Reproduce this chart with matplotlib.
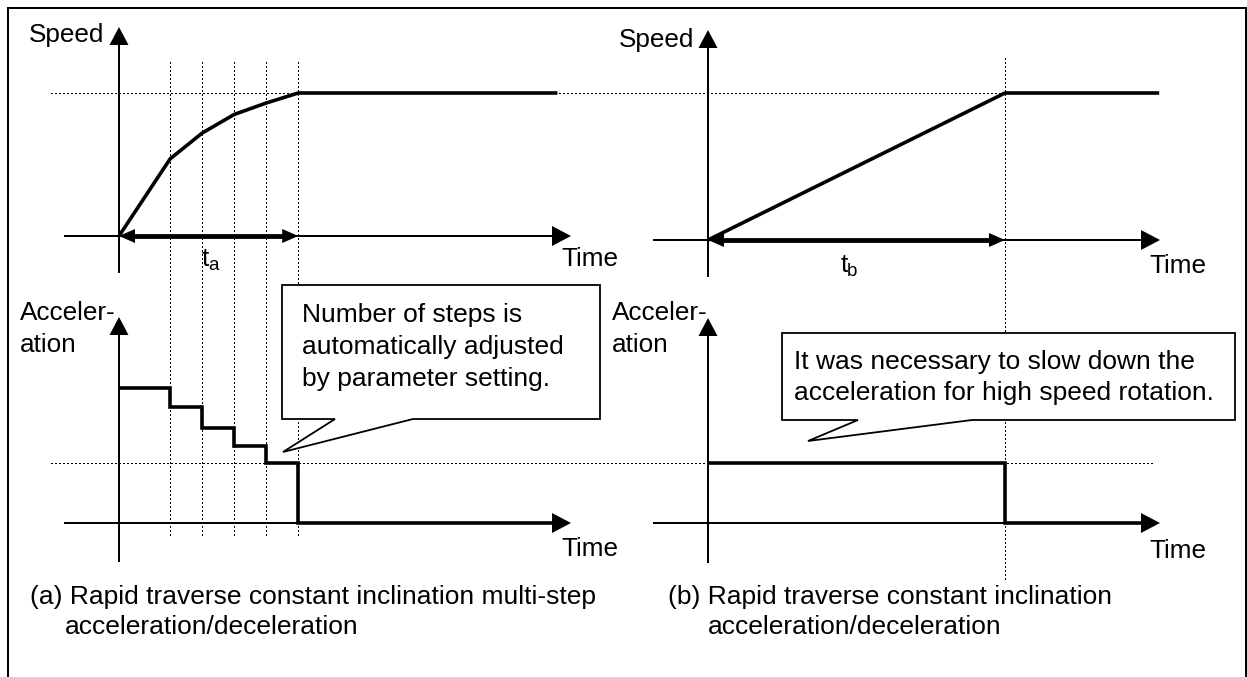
import math
import matplotlib
matplotlib.use("Agg")
import matplotlib.pyplot as plt
from matplotlib.patches import Polygon

plt.rcParams['font.family'] = ['Liberation Sans', 'DejaVu Sans']

# ---------------- data ----------------
# (a) multi-step: step boundaries (time units), speed at each boundary, accel level per step
step_t = [0, 1.6, 2.6, 3.6, 4.6, 5.6]
speed_a = [0, 0.54, 0.72, 0.85, 0.93, 1.0]
accel_a = [2.25, 1.93, 1.58, 1.28, 1.0, 0.0]
t_end_speed_a = 13.7
t_end_accel_a = 13.6
# (b) single slope
t_b = 9.28
speed_b_t = [0, t_b, 14.1]
speed_b = [0, 1.0, 1.0]
accel_b_t = [0, t_b, 13.6]
accel_b = [1.0, 0.0, 0.0]

axis_labels_speed = "Speed"
axis_labels_accel = ["Acceler-", "ation"]
time_label = "Time"
callout_a = ["Number of steps is", "automatically adjusted", "by parameter setting."]
callout_b = ["It was necessary to slow down the", "acceleration for high speed rotation."]
caption_a = ["(a) Rapid traverse constant inclination multi-step", "acceleration/deceleration"]
caption_b = ["(b) Rapid traverse constant inclination", "acceleration/deceleration"]

# ---------------- layout ----------------
W, H = 1247, 677
fig = plt.figure(figsize=(W / 100, H / 100), dpi=100)
PX = 0.72  # points per pixel at 100 dpi


def panel(ox, oy, xu, yu):
    ax = fig.add_axes([0, 0, 1, 1])
    ax.set_xlim(-ox / xu, (W - ox) / xu)
    ax.set_ylim(-(H - oy) / yu, oy / yu)
    ax.axis('off')
    ax.patch.set_alpha(0)
    return ax


ax_as = panel(119, 236, 32, 143)
ax_aa = panel(119, 523, 32, 60)
ax_bs = panel(708, 240, 32, 147)
ax_ba = panel(708, 523, 32, 60)

ov = fig.add_axes([0, 0, 1, 1], zorder=5)
ov.set_xlim(0, W)
ov.set_ylim(H, 0)
ov.axis('off')
ov.patch.set_alpha(0)


def to_px(ax, x, y):
    X, Y = ax.transData.transform((x, y))
    return X, H - Y


def arrow(x0, y0, x1, y1, lw, L, hw, both=False, z=4):
    dx, dy = x1 - x0, y1 - y0
    d = math.hypot(dx, dy)
    ux, uy = dx / d, dy / d
    px, py = -uy, ux
    sx0, sy0 = (x0 + ux * L * 0.9, y0 + uy * L * 0.9) if both else (x0, y0)
    sx1, sy1 = x1 - ux * L * 0.9, y1 - uy * L * 0.9
    ov.plot([sx0, sx1], [sy0, sy1], color='k', lw=lw * PX, solid_capstyle='butt', zorder=z)

    def head(tx, ty, vx, vy):
        bx, by = tx - vx * L, ty - vy * L
        ov.add_patch(Polygon([(tx, ty), (bx + px * hw, by + py * hw), (bx - px * hw, by - py * hw)],
                             closed=True, fc='k', ec='none', zorder=z))
    head(x1, y1, ux, uy)
    if both:
        head(x0, y0, -ux, -uy)


# ---------------- data curves ----------------
lw_data = 3.6 * PX
ax_as.plot(step_t + [t_end_speed_a], speed_a + [speed_a[-1]], color='k', lw=lw_data,
           solid_joinstyle='miter', solid_capstyle='butt')
ax_aa.plot(step_t + [t_end_accel_a], accel_a + [0.0], color='k', lw=lw_data,
           drawstyle='steps-post', solid_joinstyle='miter', solid_capstyle='butt')
ax_bs.plot(speed_b_t, speed_b, color='k', lw=lw_data, solid_joinstyle='miter', solid_capstyle='butt')
ax_ba.plot(accel_b_t, accel_b, color='k', lw=lw_data, drawstyle='steps-post',
           solid_joinstyle='miter', solid_capstyle='butt')

# ---------------- dotted guides ----------------
dot = dict(color='k', lw=1.3 * PX, linestyle=(0, (1, 1.6)), zorder=1, antialiased=False)
for t in step_t[1:]:
    x, _ = to_px(ax_as, t, 0)
    ov.plot([x, x], [62, 538], **dot)
xb, _ = to_px(ax_bs, t_b, 0)
ov.plot([xb, xb], [58, 580], **dot)
_, y_top = to_px(ax_as, 0, max(speed_a))
ov.plot([51, xb], [y_top, y_top], **dot)
_, y_acc = to_px(ax_aa, 0, accel_a[-2])
ov.plot([51, 1152], [y_acc, y_acc], **dot)

# ---------------- axes with arrows ----------------
lw_ax = 2.0
for ax, ybot, ytip in [(ax_as, 273, 27), (ax_aa, 562, 317), (ax_bs, 277, 30), (ax_ba, 563, 318)]:
    ox, oy = to_px(ax, 0, 0)
    arrow(ox, ybot, ox, ytip, lw_ax, 18, 9.5)
    arrow(ox - 55, oy, ox + 452, oy, lw_ax, 19, 10)

# t_a and t_b double arrows
x0, y0 = to_px(ax_as, 0, 0)
x1, _ = to_px(ax_as, step_t[-1], 0)
arrow(x0, y0, x1, y0, 4.8, 16, 7, both=True, z=4.5)
x0, y0 = to_px(ax_bs, 0, 0)
x1, _ = to_px(ax_bs, t_b, 0)
arrow(x0, y0, x1, y0, 4.8, 16, 7, both=True, z=4.5)

# ---------------- texts ----------------
fs = 18.8
ov.text(104, 42, axis_labels_speed, fontsize=fs, ha='right', va='baseline')
ov.text(694, 47, axis_labels_speed, fontsize=fs, ha='right', va='baseline')
for xl in (20, 612):
    ov.text(xl, 320, axis_labels_accel[0], fontsize=fs, ha='left', va='baseline')
    ov.text(xl, 352, axis_labels_accel[1], fontsize=fs, ha='left', va='baseline')
ov.text(561, 266, time_label, fontsize=fs, va='baseline')
ov.text(1149, 273, time_label, fontsize=fs, va='baseline')
ov.text(561, 556, time_label, fontsize=fs, va='baseline')
ov.text(1149, 558, time_label, fontsize=fs, va='baseline')

ov.text(202, 266, "t", fontsize=fs, va='baseline')
ov.text(208, 270, "a", fontsize=13.5, va='baseline')
ov.text(841, 272, "t", fontsize=fs, va='baseline')
ov.text(847, 276, "b", fontsize=13.5, va='baseline')

# callouts
ca = Polygon([(282, 285), (600, 285), (600, 419), (413, 419), (283, 452), (335, 419), (282, 419)],
             closed=True, fc='white', ec='k', lw=1.8 * PX, zorder=6, joinstyle='miter')
ov.add_patch(ca)
cb = Polygon([(782, 333), (1235, 333), (1235, 420), (972, 420), (808, 441), (858, 420), (782, 420)],
             closed=True, fc='white', ec='k', lw=1.8 * PX, zorder=6, joinstyle='miter')
ov.add_patch(cb)
for i, line in enumerate(callout_a):
    ov.text(302, 322 + 32 * i, line, fontsize=19, va='baseline', zorder=7)
for i, line in enumerate(callout_b):
    ov.text(794, 369 + 31 * i, line, fontsize=19, va='baseline', zorder=7)

ov.text(30, 604, caption_a[0], fontsize=19, va='baseline')
ov.text(65, 634, caption_a[1], fontsize=19, va='baseline')
ov.text(668, 604, caption_b[0], fontsize=19, va='baseline')
ov.text(708, 634, caption_b[1], fontsize=19, va='baseline')

# frame (open at the bottom)
ov.plot([7.5, 7.5, 1245.5, 1245.5], [H + 5, 8, 8, H + 5], color='k', lw=2.0 * PX,
        solid_joinstyle='miter', clip_on=False, zorder=8)

fig.savefig("out.png", dpi=100)
